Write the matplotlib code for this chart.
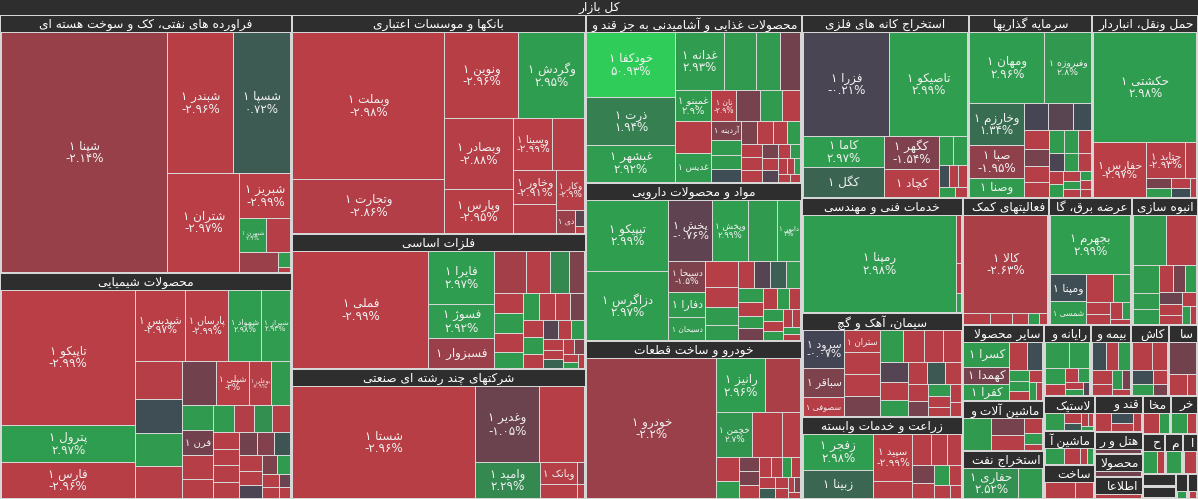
import matplotlib
matplotlib.use("Agg")
import matplotlib.pyplot as plt
from matplotlib.patches import Rectangle

# market map: sector totals and (ticker, % change, size) per sector
title = "کل بازار"

stocks_oil = [("شپنا", -2.14, 39975), ("شبندر", -2.96, 9225), ("شسپا", 0.72, 8075),
              ("شتران", -2.97, 7140), ("شبریز", -2.99, 2279), ("شبهرن", 2.9, 901),
              ("", -2.9, 837), ("", -2.2, 744), ("", 2.9, 184), ("", -2.9, 60)]
stocks_chem = [("تاپیکو", -2.99, 18090), ("پترول", 2.97, 4958), ("فارس", -2.96, 4824),
               ("شپدیس", -2.97, 3596), ("پارسان", -2.99, 3016), ("شمواد", 2.98, 2320),
               ("شیراز", 2.93, 2072), ("", -2.9, 1792), ("", 0.3, 1624), ("", 2.9, 1512),
               ("", -2.9, 1512), ("", -1.2, 1512), ("شپلی", -3.0, 1428), ("بوعلی", -2.9, 1008),
               ("شگل", 2.9, 816), ("", 2.9, 782), ("فرن", -1.2, 782), ("", -2.9, 714),
               ("", 2.9, 576), ("", -2.9, 432), ("", -2.9, 432), ("", -2.9, 432),
               ("", -2.9, 600), ("", -2.8, 560), ("", 2.5, 500), ("", -2.9, 480), ("", -2.9, 450),
               ("", -1.2, 420), ("", -1.6, 400), ("", 0.5, 380), ("", -2.9, 350), ("", -2.9, 320),
               ("", -0.3, 300), ("", -1.5, 280), ("", 2.9, 250), ("", -2.9, 220), ("", -2.9, 180),
               ("", -1.0, 150), ("", -2.9, 120)]
stocks_bank = [("وبملت", -2.98, 22200), ("وتجارت", -2.86, 8208), ("ونوین", -2.96, 6375),
               ("وگردش", 2.95, 5610), ("وبصادر", -2.88, 4896), ("وپارس", -2.95, 2992),
               ("وسینا", -2.99, 2040), ("", -2.9, 1632), ("وخاور", -2.91, 1482), ("", -2.9, 1216),
               ("وکار", -2.9, 1125), ("دی", -2.2, 442), ("", -0.6, 150), ("", -2.9, 60)]
stocks_metal = [("فملی", -2.99, 15946), ("فایرا", 2.97, 3510), ("فسوژ", 2.92, 2210),
                ("فسبزوار", -2.23, 1950), ("", -2.4, 1330), ("", -2.9, 1015), ("", 2.3, 805),
                ("", -1.5, 624), ("", -2.9, 572), ("", 2.9, 572), ("", -2.9, 546),
                ("", 2.9, 480), ("", 2.9, 450), ("", -2.9, 420), ("", -2.9, 400), ("", -1.3, 380),
                ("", -2.9, 360), ("", 2.9, 330), ("", -2.9, 300), ("", -0.5, 280), ("", -2.9, 260),
                ("", 2.9, 240), ("", -2.9, 220), ("", -2.9, 200), ("", 1.0, 180), ("", -2.9, 160),
                ("", -1.5, 140), ("", -2.9, 120), ("", 2.9, 100), ("", -2.9, 80)]
stocks_multi = [("شستا", -2.96, 20453), ("وغدیر", -1.05, 4940), ("", -2.9, 3420),
                ("وامید", 2.29, 2340), ("وبانک", -2.9, 798), ("", -2.9, 532), ("", -1.8, 150),
                ("", -2.9, 100)]
stocks_food = [("خودکفا", 50.93, 5655), ("ذرت", 1.94, 4089), ("غبشهر", 2.92, 3219),
               ("غدانه", 2.93, 2793), ("", 2.9, 1824), ("", 2.9, 1368), ("", -1.2, 1140),
               ("غمینو", 2.9, 1118), ("", -2.9, 1118), ("غدیس", 2.9, 1032), ("نان", -2.9, 726),
               ("", -1.3, 726), ("", 2.9, 660), ("", -2.9, 561), ("آردینه", -1.5, 559),
               ("", 2.9, 440), ("", 2.9, 400), ("", 0.3, 380), ("", -1.4, 360), ("", -2.9, 340),
               ("", -2.9, 320), ("", 2.9, 300), ("", -2.9, 280), ("", -2.9, 260), ("", -2.9, 240),
               ("", -1.3, 220), ("", -2.9, 200), ("", -0.5, 180), ("", -2.9, 160), ("", 2.9, 150),
               ("", -2.9, 130), ("", -2.9, 110), ("", 2.9, 100), ("", -2.9, 90), ("", -2.9, 80)]
stocks_pharma = [("تیپیکو", 2.99, 5680), ("دزاگرس", 2.97, 5600), ("پخش", -0.76, 2597),
                 ("وپخش", 2.99, 2156), ("", 2.9, 1764), ("دابور", 3.0, 1410), ("دسبحا", -1.5, 1081),
                 ("دفارا", 2.9, 893), ("دسبحان", 2.9, 846), ("", -2.9, 810), ("", -2.9, 660),
                 ("", 2.9, 570), ("", 2.9, 480), ("والبر", -2.9, 432),
                 ("", -0.5, 420), ("", 0.9, 400), ("", 2.9, 380), ("", 2.9, 360), ("", -2.9, 340),
                 ("", 2.9, 320), ("", -1.2, 300), ("", -2.9, 280), ("", 2.9, 260), ("", -2.9, 240),
                 ("", 2.9, 220), ("", -2.9, 200), ("", 2.9, 180), ("", -2.9, 160), ("", -2.9, 140),
                 ("", 2.9, 120), ("", -2.9, 100)]
stocks_auto = [("خودرو", -2.2, 18330), ("رانیز", 2.96, 2695), ("", -2.6, 1925),
               ("خچمن", 2.7, 1620), ("", -2.9, 1350), ("", -2.9, 810), ("", -2.9, 575),
               ("", 2.9, 400), ("", -1.3, 300), ("", -1.3, 280), ("", -2.9, 260), ("", -2.9, 240),
               ("", -2.9, 220), ("", 2.9, 200), ("", -2.9, 190), ("", -2.9, 180), ("", 0.8, 160),
               ("", -2.9, 140), ("", -2.9, 120), ("", -2.9, 100), ("", -1.5, 90), ("", -2.9, 80)]
stocks_mining = [("فزرا", -0.21, 8772), ("تاصیکو", 2.99, 7956), ("کاما", 2.97, 2511),
                 ("کگل", 1.0, 2349), ("کگهر", -1.54, 1782), ("کچاد", -2.9, 1512),
                 ("", 2.9, 420), ("", 2.9, 400), ("", 0.3, 220), ("", -2.9, 200),
                 ("", -2.9, 180), ("", 2.9, 160), ("", -2.9, 120)]
stocks_invest = [("ومهان", 2.96, 5168), ("وفیروزه", 2.8, 3196), ("وخارزم", 1.34, 2184),
                 ("صبا", -1.95, 1768), ("وصنا", 2.9, 988), ("", -0.1, 650), ("", -0.6, 650),
                 ("", 0.3, 475), ("", -2.9, 460), ("", -1.3, 400), ("", -2.9, 380), ("", -2.9, 360),
                 ("", 2.9, 340), ("", 2.9, 300), ("", -2.9, 280), ("", -0.2, 260), ("", 2.9, 240),
                 ("", -2.9, 220), ("", -2.9, 200), ("", 2.9, 180), ("", -2.9, 160), ("", 2.9, 140),
                 ("", -2.9, 120), ("", 2.9, 100), ("", -2.9, 90), ("", -2.9, 80)]
stocks_transport = [("حکشتی", 2.98, 11445), ("حفارس", -2.97, 2862), ("حتاید", -2.93, 1404),
                    ("", -2.9, 396), ("", -1.3, 260), ("", 2.9, 220), ("", -2.9, 200),
                    ("", 0.3, 170), ("", -2.9, 120)]
stocks_tech = [("رمپنا", 2.98, 15500), ("", -2.9, 250), ("", -2.9, 150), ("", 2.9, 100)]
stocks_cement = [("سرود", -0.07, 1612), ("سباقر", -1.5, 1248), ("سصوفی", -2.9, 832),
                 ("ستران", -2.9, 832), ("", -2.9, 820), ("", -2.9, 800), ("", -1.3, 780),
                 ("", 2.9, 740), ("", -2.9, 700), ("", -2.9, 640), ("", -2.9, 600), ("", -0.5, 560),
                 ("", -2.9, 520), ("", 2.9, 480), ("", -2.9, 440), ("", 0.6, 400), ("", -2.9, 370),
                 ("", -2.9, 340), ("", -1.3, 310), ("", 2.9, 280), ("", -2.9, 250), ("", -2.9, 220),
                 ("", -2.9, 190), ("", -2.9, 160)]
stocks_agri = [("زفجر", 2.98, 2592), ("زبینا", 1.1, 2016), ("سپید", -2.99, 1890),
               ("", -2.9, 700), ("", -2.9, 600), ("", -2.9, 500), ("", -2.9, 450), ("", -1.3, 400),
               ("", -2.9, 350), ("", 2.9, 300), ("", -2.9, 250), ("", -2.9, 200), ("", -2.9, 150)]
stocks_aux = [("کالا", -2.63, 8600), ("", -2.9, 300), ("", -2.9, 250), ("", -2.9, 180),
              ("", 2.9, 120), ("", -2.9, 100)]
stocks_power = [("بجهرم", 2.99, 5002), ("ومپنا", 0.3, 1014), ("شمسی", 2.9, 858),
                ("", -2.9, 775), ("", 2.9, 496), ("", -2.9, 300), ("", -2.9, 250),
                ("", -2.9, 200), ("", 2.9, 150), ("", -2.9, 100)]
stocks_build = [("", 2.9, 1734), ("", -2.9, 1581), ("", 2.9, 750), ("", 2.9, 450),
                ("", 2.9, 400), ("", -2.9, 380), ("", -1.3, 350), ("", 2.9, 300),
                ("", -1.0, 280), ("", -2.9, 250), ("", -2.9, 220), ("", -2.9, 200),
                ("", 2.9, 150), ("", -2.9, 120)]
stocks_mineral = [("کسرا", 2.9, 1150), ("کهمدا", -1.3, 780), ("کفرا", 2.9, 770),
                  ("", -2.9, 496), ("", 0.3, 434), ("", 2.9, 220), ("", 2.9, 200),
                  ("", -2.9, 180), ("", -2.9, 160), ("", 2.9, 130), ("", -2.9, 110)]
stocks_machine = [("", 2.9, 940), ("", -1.3, 611), ("", -2.9, 522), ("", -2.9, 300),
                  ("", 2.9, 200), ("", -2.9, 120)]
stocks_oilx = [("حفاری", 2.52, 1836), ("", 2.9, 816)]
stocks_it = [("", 2.9, 700), ("", 2.9, 600), ("", 2.9, 350), ("", -2.9, 250), ("", -2.9, 200),
             ("", 2.9, 180), ("", -2.9, 150), ("", 2.9, 120), ("", -0.5, 100)]
stocks_insur = [("", 0.3, 500), ("", -2.9, 450), ("", 2.9, 400), ("", -2.9, 350),
                ("", -2.9, 300), ("", 2.9, 250), ("", -1.3, 200), ("", -2.9, 150)]
stocks_tile = [("", -2.9, 700), ("", -2.9, 500), ("", 0.3, 350), ("", 2.9, 300),
               ("", -2.9, 250), ("", -1.3, 200)]
stocks_fin = [("", -1.2, 900), ("", -2.9, 400), ("", -2.9, 200)]
stocks_rubber = [("", 2.9, 600), ("", -2.9, 300), ("", 0.6, 250), ("", -2.9, 150),
                 ("", -2.9, 120), ("", 2.9, 100)]
stocks_elec = [("", 2.9, 500), ("", -2.9, 400), ("", -2.9, 200), ("", 2.9, 150)]
stocks_metalprod = [("", -2.9, 500), ("", -2.9, 300)]
stocks_sugar = [("", -2.9, 400), ("", 0.3, 300), ("", -2.9, 250), ("", -2.9, 200)]
stocks_hotel = [("", -1.2, 500)]
stocks_wood = [("", -1.2, 300)]
stocks_info = [("", -2.9, 300)]
stocks_telecom = [("", -2.9, 500), ("", 2.9, 300)]
stocks_retail = [("", 2.9, 500), ("", -2.9, 300)]
stocks_ship = [("", 2.9, 400), ("", -2.9, 200)]
stocks_leather = [("", 2.9, 300)]
stocks_print = [("", -2.9, 200)]
stocks_comm = [("", -2.9, 200)]
stocks_misc = [("", -1.2, 200)]
stocks_coal = [("", 2.9, 200)]
stocks_textile = [("", -2.9, 200)]

sector_names = ["فراورده های نفتی، کک و سوخت هسته ای", "محصولات شیمیایی",
                "بانکها و موسسات اعتباری", "فلزات اساسی", "شرکتهای چند رشته ای صنعتی",
                "محصولات غذایی و آشامیدنی به جز قند و شکر", "مواد و محصولات دارویی",
                "خودرو و ساخت قطعات", "استخراج کانه های فلزی", "سرمایه گذاریها",
                "حمل ونقل، انبارداری و ارتباطات", "خدمات فنی و مهندسی", "سیمان، آهک و گچ",
                "زراعت و خدمات وابسته", "فعالیتهای کمکی به نهادهای مالی واسط",
                "عرضه برق، گاز، بخاروآب گرم", "انبوه سازی، املاک و مستغلات",
                "سایر محصولات کانی غیرفلزی", "ماشین آلات و تجهیزات", "استخراج نفت گاز و خدمات جنبی",
                "رایانه و فعالیتهای وابسته به آن", "بیمه وصندوق بازنشستگی", "کاشی و سرامیک",
                "سایر واسطه گریهای مالی", "لاستیک و پلاستیک", "ماشین آلات و دستگاههای برقی",
                "ساخت محصولات فلزی", "قند و شکر", "هتل و رستوران", "محصولات چوبی",
                "اطلاعات و ارتباطات", "مخابرات", "خرده فروشی", "حمل و نقل آبی",
                "محصولات چرمی", "انتشار، چاپ و تکثیر", "ساخت دستگاهها و وسایل ارتباطی",
                "سلولزی", "استخراج زغال سنگ", "منسوجات"]
sector_sizes = [75100, 66000, 64200, 39800, 38100, 36300, 34300, 34100, 30400, 22600,
                19300, 18500, 16700, 13100, 11000, 10500, 8400, 6240, 4000, 3950,
                3360, 2870, 2660, 2100, 1760, 1720, 1700, 1690, 1100, 1080,
                1060, 1040, 1020, 900, 700, 600, 450, 400, 300, 250]
sector_stocks = [stocks_oil, stocks_chem, stocks_bank, stocks_metal, stocks_multi,
                 stocks_food, stocks_pharma, stocks_auto, stocks_mining, stocks_invest,
                 stocks_transport, stocks_tech, stocks_cement, stocks_agri, stocks_aux,
                 stocks_power, stocks_build, stocks_mineral, stocks_machine, stocks_oilx,
                 stocks_it, stocks_insur, stocks_tile, stocks_fin, stocks_rubber, stocks_elec,
                 stocks_metalprod, stocks_sugar, stocks_hotel, stocks_wood, stocks_info,
                 stocks_telecom, stocks_retail, stocks_ship, stocks_leather, stocks_print,
                 stocks_comm, stocks_misc, stocks_coal, stocks_textile]

# ---------- persian shaping (no bidi lib available) ----------
FORMS = {
    'ء': ('\ufe80', None, None, None), 'آ': ('\ufe81', '\ufe82', None, None),
    'ئ': ('\ufe89', '\ufe8a', '\ufe8b', '\ufe8c'), 'ا': ('\ufe8d', '\ufe8e', None, None),
    'ب': ('\ufe8f', '\ufe90', '\ufe91', '\ufe92'), 'ة': ('\ufe93', '\ufe94', None, None),
    'ت': ('\ufe95', '\ufe96', '\ufe97', '\ufe98'), 'ث': ('\ufe99', '\ufe9a', '\ufe9b', '\ufe9c'),
    'ج': ('\ufe9d', '\ufe9e', '\ufe9f', '\ufea0'), 'ح': ('\ufea1', '\ufea2', '\ufea3', '\ufea4'),
    'خ': ('\ufea5', '\ufea6', '\ufea7', '\ufea8'), 'د': ('\ufea9', '\ufeaa', None, None),
    'ذ': ('\ufeab', '\ufeac', None, None), 'ر': ('\ufead', '\ufeae', None, None),
    'ز': ('\ufeaf', '\ufeb0', None, None), 'س': ('\ufeb1', '\ufeb2', '\ufeb3', '\ufeb4'),
    'ش': ('\ufeb5', '\ufeb6', '\ufeb7', '\ufeb8'), 'ص': ('\ufeb9', '\ufeba', '\ufebb', '\ufebc'),
    'ض': ('\ufebd', '\ufebe', '\ufebf', '\ufec0'), 'ط': ('\ufec1', '\ufec2', '\ufec3', '\ufec4'),
    'ظ': ('\ufec5', '\ufec6', '\ufec7', '\ufec8'), 'ع': ('\ufec9', '\ufeca', '\ufecb', '\ufecc'),
    'غ': ('\ufecd', '\ufece', '\ufecf', '\ufed0'), 'ف': ('\ufed1', '\ufed2', '\ufed3', '\ufed4'),
    'ق': ('\ufed5', '\ufed6', '\ufed7', '\ufed8'), 'ل': ('\ufedd', '\ufede', '\ufedf', '\ufee0'),
    'م': ('\ufee1', '\ufee2', '\ufee3', '\ufee4'), 'ن': ('\ufee5', '\ufee6', '\ufee7', '\ufee8'),
    'ه': ('\ufee9', '\ufeea', '\ufeeb', '\ufeec'), 'و': ('\ufeed', '\ufeee', None, None),
    'پ': ('\ufb56', '\ufb57', '\ufb58', '\ufb59'), 'چ': ('\ufb7a', '\ufb7b', '\ufb7c', '\ufb7d'),
    'ژ': ('\ufb8a', '\ufb8b', None, None), 'ک': ('\ufb8e', '\ufb8f', '\ufb90', '\ufb91'),
    'گ': ('\ufb92', '\ufb93', '\ufb94', '\ufb95'), 'ی': ('\ufbfc', '\ufbfd', '\ufbfe', '\ufbff'),
}
LAMALEF = {'ا': ('\ufefb', '\ufefc'), 'آ': ('\ufef5', '\ufef6')}


def links_next(c):
    f = FORMS.get(c)
    return f is not None and f[2] is not None


def shape(s):
    out = []
    i = 0
    while i < len(s):
        c = s[i]
        join_prev = i > 0 and links_next(s[i - 1])
        if c == 'ل' and i + 1 < len(s) and s[i + 1] in LAMALEF:
            out.append(LAMALEF[s[i + 1]][1 if join_prev else 0])
            i += 2
            continue
        if c not in FORMS:
            out.append(c)
            i += 1
            continue
        iso, fin, ini, med = FORMS[c]
        join_next = links_next(c) and i + 1 < len(s) and s[i + 1] in FORMS
        if join_prev and join_next:
            g = med
        elif join_prev:
            g = fin or iso
        elif join_next:
            g = ini
        else:
            g = iso
        out.append(g)
        i += 1
    return ''.join(out)


def rtl(s):
    return shape(s)[::-1]


FA_DIGITS = str.maketrans("0123456789", "۰۱۲۳۴۵۶۷۸۹")


def pct_text(v):
    s = f"{abs(v):.2f}".rstrip('0').rstrip('.')
    return ("-" if v < 0 else "") + s.translate(FA_DIGITS) + "%"


# finviz-like colour scale
STOPS = [(-6, (246, 53, 56)), (-3, (186, 62, 70)), (0, (65, 69, 84)),
         (3, (47, 158, 79)), (6, (48, 204, 90))]


def color_for(v):
    v = max(-6, min(6, v))
    for (a, ca), (b, cb) in zip(STOPS[:-1], STOPS[1:]):
        if a <= v <= b:
            t = (v - a) / (b - a)
            return tuple((ca[k] + t * (cb[k] - ca[k])) / 255 for k in range(3))
    return (0.25, 0.27, 0.33)


# ---------- squarified layout (d3.treemapSquarify style) ----------
RATIO = (1 + 5 ** 0.5) / 2


def squarify(values, x0, y0, x1, y1):
    order = sorted(range(len(values)), key=lambda k: -values[k])
    rects = [None] * len(values)
    total = float(sum(values))
    i0 = 0
    n = len(order)
    while i0 < n:
        dx, dy = x1 - x0, y1 - y0
        i1 = i0 + 1
        s = values[order[i0]]
        mn = mx = s
        alpha = max(dy / dx, dx / dy) / (total * RATIO)
        beta = s * s * alpha
        best = max(mx / beta, beta / mn)
        while i1 < n:
            v = values[order[i1]]
            s2 = s + v
            mn2, mx2 = min(mn, v), max(mx, v)
            beta = s2 * s2 * alpha
            r = max(mx2 / beta, beta / mn2)
            if r > best:
                break
            s, mn, mx, best = s2, mn2, mx2, r
            i1 += 1
        row = order[i0:i1]
        if dx < dy:
            yb = y0 + dy * s / total if i1 < n else y1
            xx = x0
            for k in row:
                w = (x1 - x0) * values[k] / s
                rects[k] = (xx, y0, xx + w, yb)
                xx += w
            y0 = yb
        else:
            xb = x0 + dx * s / total if i1 < n else x1
            yy = y0
            for k in row:
                h = (y1 - y0) * values[k] / s
                rects[k] = (x0, yy, xb, yy + h)
                yy += h
            x0 = xb
        total -= s
        i0 = i1
    return rects


W, H = 1198, 499
HEAD = 16
BG = '#d6d6d6'
HEAD_COLOR = '#2e2e2e'

fig = plt.figure(figsize=(W / 100, H / 100), dpi=100)
fig.patch.set_facecolor(BG)
ax = fig.add_axes([0, 0, 1, 1])
ax.set_xlim(0, W)
ax.set_ylim(H, 0)
ax.axis('off')
renderer = fig.canvas.get_renderer()


def header(x0, y0, x1, y1, text, fs=8.8):
    ax.add_patch(Rectangle((x0, y0), x1 - x0, y1 - y0, facecolor=HEAD_COLOR, edgecolor='none'))
    room = (x1 - x0) - 6
    if room < 4 or (y1 - y0) < 11:
        return
    t = ax.text((x0 + x1) / 2, (y0 + y1) / 2 + 0.5, rtl(text), color='white', fontsize=fs,
                ha='center', va='center')
    if t.get_window_extent(renderer).width <= room:
        return
    # too long: keep the start of the (right-to-left) text, cut the rest
    t.set_ha('right')
    t.set_x(x1 - 3)
    cut = text
    while cut:
        cut = cut[:-1].rstrip()
        t.set_text(rtl(cut))
        if t.get_window_extent(renderer).width <= room:
            break
    if not cut:
        t.remove()


header(0, 0, W, 14.5, title)

sector_rects = squarify(sector_sizes, 0, 15, W, H)
for name, srect, stocks in zip(sector_names, sector_rects, sector_stocks):
    sx0, sy0, sx1, sy1 = srect
    head_h = min(HEAD, sy1 - sy0 - 3)
    header(sx0 + 1, sy0 + 1, sx1 - 1, sy0 + 1 + head_h, name)
    sizes = [st[2] for st in stocks]
    tiles = squarify(sizes, sx0 + 1.2, sy0 + head_h + 1.5, sx1 - 1.2, sy1 - 0.5)
    for (tick, chg, _), (x0, y0, x1, y1) in zip(stocks, tiles):
        ax.add_patch(Rectangle((x0 + 0.5, y0 + 0.5), x1 - x0 - 1.0, y1 - y0 - 1.0,
                               facecolor=color_for(chg), edgecolor='none'))
        if not tick:
            continue
        w, h = x1 - x0, y1 - y0
        name_line = "۱ " + rtl(tick)
        label = name_line + "\n" + pct_text(chg) if h >= 30 else name_line
        t = ax.text((x0 + x1) / 2, (y0 + y1) / 2, label, color='#f2f2f2', fontsize=10,
                    ha='center', va='center', linespacing=0.95)
        bb = t.get_window_extent(renderer)
        fs = min(8.6, 10 * 0.85 * w / bb.width, 10 * 0.8 * h / bb.height)
        if fs < 4.0:
            t.remove()
        else:
            t.set_fontsize(fs)

fig.savefig("out.png", dpi=100, facecolor=BG)
